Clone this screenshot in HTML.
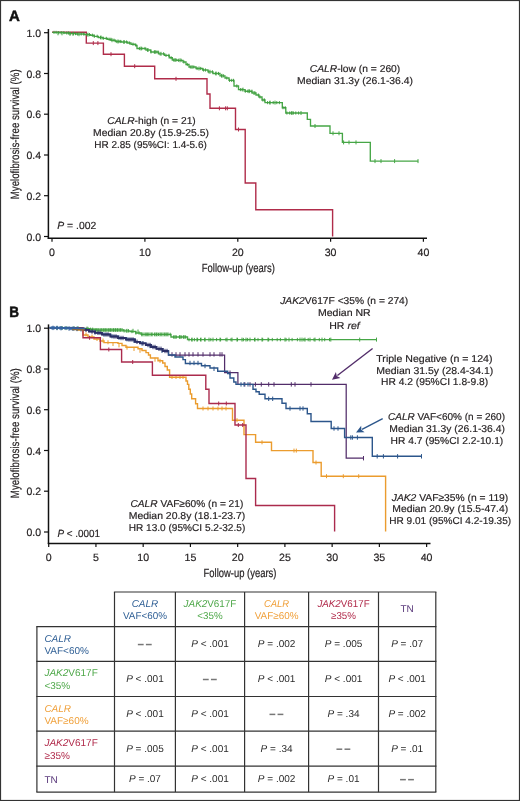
<!DOCTYPE html>
<html><head><meta charset="utf-8"><style>
html,body{margin:0;padding:0;background:#fff;}
body{width:520px;height:801px;overflow:hidden;}
svg{display:block;will-change:transform;font-family:"Liberation Sans", sans-serif;text-rendering:geometricPrecision;}
</style></head><body>
<svg width="520" height="801" viewBox="0 0 520 801">
<rect x="0" y="0" width="520" height="801" fill="#fff"/>
<text x="8.9" y="20.9" font-size="15" text-anchor="start" fill="#111" font-weight="bold" font-style="normal" stroke="#111" stroke-width="0.5">A</text>
<line x1="48.4" y1="29" x2="48.4" y2="238.9" stroke="#111" stroke-width="1.5"/>
<line x1="47.699999999999996" y1="238.3" x2="427" y2="238.3" stroke="#111" stroke-width="1.5"/>
<line x1="44" y1="32.7" x2="48.4" y2="32.7" stroke="#111" stroke-width="1.2"/>
<text x="41.1" y="36.800000000000004" font-size="10.6" text-anchor="end" fill="#231f20" font-weight="normal" font-style="normal" textLength="14.6" lengthAdjust="spacingAndGlyphs"  stroke="#231f20" stroke-width="0.18">1.0</text>
<line x1="44" y1="73.5" x2="48.4" y2="73.5" stroke="#111" stroke-width="1.2"/>
<text x="41.1" y="77.6" font-size="10.6" text-anchor="end" fill="#231f20" font-weight="normal" font-style="normal" textLength="14.6" lengthAdjust="spacingAndGlyphs"  stroke="#231f20" stroke-width="0.18">0.8</text>
<line x1="44" y1="114.2" x2="48.4" y2="114.2" stroke="#111" stroke-width="1.2"/>
<text x="41.1" y="118.3" font-size="10.6" text-anchor="end" fill="#231f20" font-weight="normal" font-style="normal" textLength="14.6" lengthAdjust="spacingAndGlyphs"  stroke="#231f20" stroke-width="0.18">0.6</text>
<line x1="44" y1="155" x2="48.4" y2="155" stroke="#111" stroke-width="1.2"/>
<text x="41.1" y="159.1" font-size="10.6" text-anchor="end" fill="#231f20" font-weight="normal" font-style="normal" textLength="14.6" lengthAdjust="spacingAndGlyphs"  stroke="#231f20" stroke-width="0.18">0.4</text>
<line x1="44" y1="195.7" x2="48.4" y2="195.7" stroke="#111" stroke-width="1.2"/>
<text x="41.1" y="199.79999999999998" font-size="10.6" text-anchor="end" fill="#231f20" font-weight="normal" font-style="normal" textLength="14.6" lengthAdjust="spacingAndGlyphs"  stroke="#231f20" stroke-width="0.18">0.2</text>
<line x1="44" y1="236.5" x2="48.4" y2="236.5" stroke="#111" stroke-width="1.2"/>
<text x="41.1" y="240.6" font-size="10.6" text-anchor="end" fill="#231f20" font-weight="normal" font-style="normal" textLength="14.6" lengthAdjust="spacingAndGlyphs"  stroke="#231f20" stroke-width="0.18">0.0</text>
<line x1="52" y1="238.3" x2="52" y2="241.8" stroke="#111" stroke-width="1.2"/>
<text x="52" y="255.9" font-size="10.6" text-anchor="middle" fill="#231f20" font-weight="normal" font-style="normal"  stroke="#231f20" stroke-width="0.18">0</text>
<line x1="144.9" y1="238.3" x2="144.9" y2="241.8" stroke="#111" stroke-width="1.2"/>
<text x="144.9" y="255.9" font-size="10.6" text-anchor="middle" fill="#231f20" font-weight="normal" font-style="normal"  stroke="#231f20" stroke-width="0.18">10</text>
<line x1="237.8" y1="238.3" x2="237.8" y2="241.8" stroke="#111" stroke-width="1.2"/>
<text x="237.8" y="255.9" font-size="10.6" text-anchor="middle" fill="#231f20" font-weight="normal" font-style="normal"  stroke="#231f20" stroke-width="0.18">20</text>
<line x1="330.6" y1="238.3" x2="330.6" y2="241.8" stroke="#111" stroke-width="1.2"/>
<text x="330.6" y="255.9" font-size="10.6" text-anchor="middle" fill="#231f20" font-weight="normal" font-style="normal"  stroke="#231f20" stroke-width="0.18">30</text>
<line x1="423.4" y1="238.3" x2="423.4" y2="241.8" stroke="#111" stroke-width="1.2"/>
<text x="423.4" y="255.9" font-size="10.6" text-anchor="middle" fill="#231f20" font-weight="normal" font-style="normal"  stroke="#231f20" stroke-width="0.18">40</text>
<text x="238.3" y="272" font-size="12" text-anchor="middle" fill="#231f20" font-weight="normal" font-style="normal" textLength="73" lengthAdjust="spacingAndGlyphs" stroke="#231f20" stroke-width="0.2">Follow-up (years)</text>
<text x="19.3" y="134.3" font-size="12" text-anchor="middle" fill="#231f20" font-weight="normal" font-style="normal" textLength="130" lengthAdjust="spacingAndGlyphs" transform="rotate(-90 19.3 134.3)" stroke="#231f20" stroke-width="0.2">Myelofibrosis-free survival (%)</text>
<text x="57.3" y="228.8" font-size="10.4" text-anchor="start" fill="#231f20" font-weight="normal" font-style="normal" textLength="39" lengthAdjust="spacingAndGlyphs"  stroke="#231f20" stroke-width="0.18"><tspan font-style="italic">P</tspan> = .002</text>
<path d="M52,32.3 H86.3 V43.1 H103.4 V54.2 H124.4 V66.2 H154.7 V78.8 H207 V94 H210 V108.3 H235.5 V129.5 H245.2 V183 H255.8 V209.7 H332.6 V236.5" fill="none" stroke="#b02c4a" stroke-width="1.4" stroke-linejoin="miter" stroke-linecap="butt" />
<path d="M93.3,41.1 V45.1 M97.9,41.1 V45.1 M111,52.2 V56.2 M134.7,64.2 V68.2 M176,76.8 V80.8 M219.4,106.3 V110.3 M225.6,106.3 V110.3 M227.3,106.3 V110.3 M238.5,127.5 V131.5" stroke="#b02c4a" stroke-width="1.0" fill="none"/>
<path d="M52.3,32.4 H58 V32.6 H64 V33 H70 V33.6 H76 V34 H84.6 V34.6 H90.4 V35.2 H94 V36.3 H98.4 V37.5 H103 V38.4 H107.7 V39.3 H111 V40.2 H115.4 V41.5 H121.5 V42 H127.7 V43 H131 V44.2 H135.4 V45.4 H137 V48.5 H146 V50 H150.8 V52 H158.5 V53.8 H164.6 V55.4 H169.2 V57.7 H172.3 V60 H177 V60.3 H183 V62 H186 V64.5 H189 V67 H196 V68.5 H202.7 V70 H208 V71.8 H213 V73.5 H220 V75.8 H225 V78 H229 V80.4 H234 V86 H238.5 V89.6 H245 V91.2 H252 V93 H256 V95 H259 V97 H262 V100 H265 V102.6 H282.3 V107.7 H285.8 V113 H307.3 V119.3 H310.5 V126 H330 V133.3 H342.4 V142.4 H370.3 V161.1 H418.2 V161.1" fill="none" stroke="#46a646" stroke-width="1.35" stroke-linejoin="miter" stroke-linecap="butt" />
<path d="M58,31.299999999999997 V35.3 M62,31.299999999999997 V35.3 M70,31.799999999999997 V35.8 M73,31.799999999999997 V35.8 M79,32.2 V36.2 M88,32.7 V36.7 M101,35.5 V39.5 M112,38.2 V42.2 M118,39.5 V43.5 M124,40.0 V44.0 M141,46.5 V50.5 M148,48.0 V52.0 M155,50.0 V54.0 M161,51.8 V55.8 M175,58.0 V62.0 M180,58.3 V62.3 M192,65.0 V69.0 M199,66.5 V70.5 M210,69.8 V73.8 M216,71.5 V75.5 M222,73.8 V77.8 M243,87.6 V91.6 M249,89.2 V93.2 M254,91.0 V95.0 M270,100.6 V104.6 M275,100.6 V104.6 M292,111.0 V115.0 M301,111.0 V115.0 M315,124.0 V128.0 M333,131.3 V135.3 M339,131.3 V135.3 M343.6,140.4 V144.4 M349,140.4 V144.4 M356,140.4 V144.4 M375,159.1 V163.1 M381,159.1 V163.1 M394.6,159.1 V163.1 M418,159.1 V163.1" stroke="#46a646" stroke-width="1.0" fill="none"/>
<path d="M54.0,30.799999999999997 V34.0 M56.1,30.799999999999997 V34.0 M58.8,31.0 V34.2 M61.1,31.0 V34.2 M63.9,31.0 V34.2 M66.8,31.4 V34.6 M68.5,31.4 V34.6 M70.1,32.0 V35.2 M73.4,32.0 V35.2 M75.5,32.0 V35.2 M77.6,32.4 V35.6 M81.2,32.4 V35.6 M83.7,32.4 V35.6 M87.0,33.0 V36.2 M89.5,33.0 V36.2 M92.4,33.6 V36.800000000000004 M94.3,34.699999999999996 V37.9 M97.2,34.699999999999996 V37.9 M100.5,35.9 V39.1 M103.2,36.8 V40.0 M106.3,36.8 V40.0 M109.2,37.699999999999996 V40.9 M110.9,37.699999999999996 V40.9 M114.0,38.6 V41.800000000000004 M116.8,39.9 V43.1 M119.0,39.9 V43.1 M120.7,39.9 V43.1 M124.0,40.4 V43.6 M126.6,40.4 V43.6 M129.6,41.4 V44.6 M133.0,42.6 V45.800000000000004 M136.0,43.8 V47.0 M139.4,46.9 V50.1 M141.8,46.9 V50.1 M145.0,46.9 V50.1 M147.5,48.4 V51.6 M151.0,50.4 V53.6 M154.3,50.4 V53.6 M156.1,50.4 V53.6 M158.0,50.4 V53.6 M160.0,52.199999999999996 V55.4 M163.6,52.199999999999996 V55.4 M166.0,53.8 V57.0 M168.9,53.8 V57.0 M171.1,56.1 V59.300000000000004 M173.7,58.4 V61.6 M176.1,58.4 V61.6 M178.4,58.699999999999996 V61.9 M181.2,58.699999999999996 V61.9 M183.9,60.4 V63.6 M187.3,62.9 V66.1 M190.3,65.4 V68.6 M193.8,65.4 V68.6 M197.1,66.9 V70.1 M200.7,66.9 V70.1 M203.6,68.4 V71.6 M205.5,68.4 V71.6 M208.8,70.2 V73.39999999999999 M212.4,70.2 V73.39999999999999 M215.8,71.9 V75.1 M218.5,71.9 V75.1 M221.5,74.2 V77.39999999999999 M223.6,74.2 V77.39999999999999 M226.8,76.4 V79.6 M229.6,78.80000000000001 V82.0 M231.7,78.80000000000001 V82.0 M233.5,78.80000000000001 V82.0 M236.8,84.4 V87.6 M240.4,88.0 V91.19999999999999 M242.1,88.0 V91.19999999999999 M245.3,89.60000000000001 V92.8 M247.8,89.60000000000001 V92.8 M249.7,89.60000000000001 V92.8 M251.9,89.60000000000001 V92.8 M255.0,91.4 V94.6 M258.3,93.4 V96.6 M260.0,95.4 V98.6 M262.9,98.4 V101.6 M264.5,98.4 V101.6 M267.6,101.0 V104.19999999999999 M269.8,101.0 V104.19999999999999 M273.2,101.0 V104.19999999999999 M276.8,101.0 V104.19999999999999 M279.4,101.0 V104.19999999999999 M283.0,106.10000000000001 V109.3 M285.2,106.10000000000001 V109.3 M286.9,111.4 V114.6 M289.7,111.4 V114.6 M291.4,111.4 V114.6 M293.4,111.4 V114.6 M295.8,111.4 V114.6 M298.6,111.4 V114.6" stroke="#3c9a3c" stroke-width="0.9" fill="none"/>
<text x="355" y="71.7" font-size="10" text-anchor="middle" fill="#231f20" font-weight="normal" font-style="normal" textLength="90.5" lengthAdjust="spacingAndGlyphs"  stroke="#231f20" stroke-width="0.18"><tspan font-style="italic">CALR</tspan>-low (n = 260)</text>
<text x="355" y="83.8" font-size="10" text-anchor="middle" fill="#231f20" font-weight="normal" font-style="normal" textLength="116.0" lengthAdjust="spacingAndGlyphs"  stroke="#231f20" stroke-width="0.18">Median 31.3y (26.1-36.4)</text>
<text x="151.5" y="123.8" font-size="10" text-anchor="middle" fill="#231f20" font-weight="normal" font-style="normal" textLength="88.5" lengthAdjust="spacingAndGlyphs"  stroke="#231f20" stroke-width="0.18"><tspan font-style="italic">CALR</tspan>-high (n = 21)</text>
<text x="151" y="136" font-size="10" text-anchor="middle" fill="#231f20" font-weight="normal" font-style="normal" textLength="115.8" lengthAdjust="spacingAndGlyphs"  stroke="#231f20" stroke-width="0.18">Median 20.8y (15.9-25.5)</text>
<text x="150.5" y="148" font-size="10" text-anchor="middle" fill="#231f20" font-weight="normal" font-style="normal" textLength="112.5" lengthAdjust="spacingAndGlyphs"  stroke="#231f20" stroke-width="0.18">HR 2.85 (95%CI: 1.4-5.6)</text>
<text x="9.3" y="316.6" font-size="15" text-anchor="start" fill="#111" font-weight="bold" font-style="normal" textLength="9.8" lengthAdjust="spacingAndGlyphs" stroke="#111" stroke-width="0.5">B</text>
<line x1="48.5" y1="324.4" x2="48.5" y2="544.1" stroke="#111" stroke-width="1.5"/>
<line x1="47.8" y1="543.5" x2="430.5" y2="543.5" stroke="#111" stroke-width="1.5"/>
<line x1="44" y1="328.2" x2="48.5" y2="328.2" stroke="#111" stroke-width="1.2"/>
<text x="41.1" y="332.3" font-size="10.6" text-anchor="end" fill="#231f20" font-weight="normal" font-style="normal" textLength="14.6" lengthAdjust="spacingAndGlyphs"  stroke="#231f20" stroke-width="0.18">1.0</text>
<line x1="44" y1="369" x2="48.5" y2="369" stroke="#111" stroke-width="1.2"/>
<text x="41.1" y="373.1" font-size="10.6" text-anchor="end" fill="#231f20" font-weight="normal" font-style="normal" textLength="14.6" lengthAdjust="spacingAndGlyphs"  stroke="#231f20" stroke-width="0.18">0.8</text>
<line x1="44" y1="409.7" x2="48.5" y2="409.7" stroke="#111" stroke-width="1.2"/>
<text x="41.1" y="413.8" font-size="10.6" text-anchor="end" fill="#231f20" font-weight="normal" font-style="normal" textLength="14.6" lengthAdjust="spacingAndGlyphs"  stroke="#231f20" stroke-width="0.18">0.6</text>
<line x1="44" y1="450.5" x2="48.5" y2="450.5" stroke="#111" stroke-width="1.2"/>
<text x="41.1" y="454.6" font-size="10.6" text-anchor="end" fill="#231f20" font-weight="normal" font-style="normal" textLength="14.6" lengthAdjust="spacingAndGlyphs"  stroke="#231f20" stroke-width="0.18">0.4</text>
<line x1="44" y1="491.2" x2="48.5" y2="491.2" stroke="#111" stroke-width="1.2"/>
<text x="41.1" y="495.3" font-size="10.6" text-anchor="end" fill="#231f20" font-weight="normal" font-style="normal" textLength="14.6" lengthAdjust="spacingAndGlyphs"  stroke="#231f20" stroke-width="0.18">0.2</text>
<line x1="44" y1="532" x2="48.5" y2="532" stroke="#111" stroke-width="1.2"/>
<text x="41.1" y="536.1" font-size="10.6" text-anchor="end" fill="#231f20" font-weight="normal" font-style="normal" textLength="14.6" lengthAdjust="spacingAndGlyphs"  stroke="#231f20" stroke-width="0.18">0.0</text>
<line x1="48.7" y1="543.5" x2="48.7" y2="547.0" stroke="#111" stroke-width="1.2"/>
<text x="48.7" y="560.7" font-size="10.6" text-anchor="middle" fill="#231f20" font-weight="normal" font-style="normal"  stroke="#231f20" stroke-width="0.18">0</text>
<line x1="95.94" y1="543.5" x2="95.94" y2="547.0" stroke="#111" stroke-width="1.2"/>
<text x="95.94" y="560.7" font-size="10.6" text-anchor="middle" fill="#231f20" font-weight="normal" font-style="normal"  stroke="#231f20" stroke-width="0.18">5</text>
<line x1="143.18" y1="543.5" x2="143.18" y2="547.0" stroke="#111" stroke-width="1.2"/>
<text x="143.18" y="560.7" font-size="10.6" text-anchor="middle" fill="#231f20" font-weight="normal" font-style="normal"  stroke="#231f20" stroke-width="0.18">10</text>
<line x1="190.42000000000002" y1="543.5" x2="190.42000000000002" y2="547.0" stroke="#111" stroke-width="1.2"/>
<text x="190.42000000000002" y="560.7" font-size="10.6" text-anchor="middle" fill="#231f20" font-weight="normal" font-style="normal"  stroke="#231f20" stroke-width="0.18">15</text>
<line x1="237.66000000000003" y1="543.5" x2="237.66000000000003" y2="547.0" stroke="#111" stroke-width="1.2"/>
<text x="237.66000000000003" y="560.7" font-size="10.6" text-anchor="middle" fill="#231f20" font-weight="normal" font-style="normal"  stroke="#231f20" stroke-width="0.18">20</text>
<line x1="284.90000000000003" y1="543.5" x2="284.90000000000003" y2="547.0" stroke="#111" stroke-width="1.2"/>
<text x="284.90000000000003" y="560.7" font-size="10.6" text-anchor="middle" fill="#231f20" font-weight="normal" font-style="normal"  stroke="#231f20" stroke-width="0.18">25</text>
<line x1="332.14" y1="543.5" x2="332.14" y2="547.0" stroke="#111" stroke-width="1.2"/>
<text x="332.14" y="560.7" font-size="10.6" text-anchor="middle" fill="#231f20" font-weight="normal" font-style="normal"  stroke="#231f20" stroke-width="0.18">30</text>
<line x1="379.38" y1="543.5" x2="379.38" y2="547.0" stroke="#111" stroke-width="1.2"/>
<text x="379.38" y="560.7" font-size="10.6" text-anchor="middle" fill="#231f20" font-weight="normal" font-style="normal"  stroke="#231f20" stroke-width="0.18">35</text>
<line x1="426.62" y1="543.5" x2="426.62" y2="547.0" stroke="#111" stroke-width="1.2"/>
<text x="426.62" y="560.7" font-size="10.6" text-anchor="middle" fill="#231f20" font-weight="normal" font-style="normal"  stroke="#231f20" stroke-width="0.18">40</text>
<text x="240" y="576.7" font-size="12" text-anchor="middle" fill="#231f20" font-weight="normal" font-style="normal" textLength="73" lengthAdjust="spacingAndGlyphs" stroke="#231f20" stroke-width="0.2">Follow-up (years)</text>
<text x="19.3" y="433.2" font-size="12" text-anchor="middle" fill="#231f20" font-weight="normal" font-style="normal" textLength="130" lengthAdjust="spacingAndGlyphs" transform="rotate(-90 19.3 433.2)" stroke="#231f20" stroke-width="0.2">Myelofibrosis-free survival (%)</text>
<text x="57.5" y="537.3" font-size="10.4" text-anchor="start" fill="#231f20" font-weight="normal" font-style="normal" textLength="42.6" lengthAdjust="spacingAndGlyphs"  stroke="#231f20" stroke-width="0.18"><tspan font-style="italic">P</tspan> &lt; .0001</text>
<path d="M49.5,327.8 H70 V328.2 H84 V328.6 H90 V329.3 H95.8 V330 H123.5 V330.8 H130 V331.5 H135.8 V333 H141 V334.4 H171 V337 H187.5 V339.6 H377" fill="none" stroke="#46a646" stroke-width="1.35" stroke-linejoin="miter" stroke-linecap="butt" />
<path d="M92,328.0 V332.0 M94,328.0 V332.0 M96,328.0 V332.0 M98,328.0 V332.0 M100,328.0 V332.0 M102,328.0 V332.0 M104,328.0 V332.0 M106,328.0 V332.0 M108,328.0 V332.0 M110,328.0 V332.0 M112,328.0 V332.0 M114,328.0 V332.0 M116,328.0 V332.0 M118,328.0 V332.0 M120,328.0 V332.0 M122,328.0 V332.0 M127,328.8 V332.8 M142,332.4 V336.4 M144,332.4 V336.4 M146,332.4 V336.4 M148,332.4 V336.4 M152,332.4 V336.4 M157,332.4 V336.4 M162,332.4 V336.4 M166,332.4 V336.4 M133,328.8 V332.8 M138,329.5 V333.5 M150,332.4 V336.4 M155,332.4 V336.4 M160,332.4 V336.4 M164,332.4 V336.4 M168,332.4 V336.4 M175,335.0 V339.0 M180,335.0 V339.0 M184,335.0 V339.0 M192,337.6 V341.6 M197,337.6 V341.6 M201,337.6 V341.6 M205,337.6 V341.6 M209,337.6 V341.6 M213,337.6 V341.6 M220,337.6 V341.6 M227,337.6 V341.6 M232,337.6 V341.6 M237,337.6 V341.6 M242,337.6 V341.6 M246,337.6 V341.6 M250,337.6 V341.6 M255,337.6 V341.6 M262,337.6 V341.6 M268,337.6 V341.6 M285,337.6 V341.6 M289,337.6 V341.6 M300,337.6 V341.6 M302,337.6 V341.6 M305,337.6 V341.6 M310,337.6 V341.6 M315,337.6 V341.6 M322,337.6 V341.6 M330.8,337.6 V341.6 M359.7,337.6 V341.6 M376.5,337.6 V341.6 M57,325.9 V329.9 M62,326.0 V330.0 M66,326.1 V330.1 M74,326.2 V330.2 M78,326.2 V330.2 M87,326.6 V330.6" stroke="#46a646" stroke-width="1.0" fill="none"/>
<path d="M88.0,326.90000000000003 V330.3 M90.6,327.6 V331.0 M92.7,327.6 V331.0 M96.1,328.3 V331.7 M98.1,328.3 V331.7 M101.2,328.3 V331.7 M103.8,328.3 V331.7 M105.8,328.3 V331.7 M108.8,328.3 V331.7 M110.7,328.3 V331.7 M113.5,328.3 V331.7 M115.5,328.3 V331.7 M117.5,328.3 V331.7 M120.3,328.3 V331.7 M124.1,329.1 V332.5 M126.2,329.1 V332.5 M128.5,329.1 V332.5 M131.9,329.8 V333.2 M135.9,331.3 V334.7 M139.1,331.3 V334.7 M141.9,332.7 V336.09999999999997 M146.0,332.7 V336.09999999999997 M147.9,332.7 V336.09999999999997 M151.8,332.7 V336.09999999999997 M154.3,332.7 V336.09999999999997 M156.4,332.7 V336.09999999999997 M158.5,332.7 V336.09999999999997 M161.0,332.7 V336.09999999999997 M164.8,332.7 V336.09999999999997 M167.0,332.7 V336.09999999999997 M170.2,332.7 V336.09999999999997 M173.6,335.3 V338.7 M176.3,335.3 V338.7 M179.4,335.3 V338.7 M181.3,335.3 V338.7 M183.3,335.3 V338.7 M185.6,335.3 V338.7 M189.0,337.90000000000003 V341.3 M191.8,337.90000000000003 V341.3 M194.4,337.90000000000003 V341.3 M197.6,337.90000000000003 V341.3 M200.5,337.90000000000003 V341.3 M204.7,337.90000000000003 V341.3 M210.8,337.90000000000003 V341.3 M216.6,337.90000000000003 V341.3 M220.6,337.90000000000003 V341.3 M225.9,337.90000000000003 V341.3 M231.0,337.90000000000003 V341.3 M237.5,337.90000000000003 V341.3 M243.4,337.90000000000003 V341.3 M247.6,337.90000000000003 V341.3 M254.5,337.90000000000003 V341.3 M258.0,337.90000000000003 V341.3 M262.7,337.90000000000003 V341.3 M268.7,337.90000000000003 V341.3 M272.3,337.90000000000003 V341.3 M277.2,337.90000000000003 V341.3 M280.4,337.90000000000003 V341.3 M286.1,337.90000000000003 V341.3 M292.1,337.90000000000003 V341.3 M297.4,337.90000000000003 V341.3 M303.9,337.90000000000003 V341.3 M308.2,337.90000000000003 V341.3 M314.0,337.90000000000003 V341.3 M319.3,337.90000000000003 V341.3 M324.7,337.90000000000003 V341.3 M329.5,337.90000000000003 V341.3" stroke="#3c9a3c" stroke-width="0.9" fill="none"/>
<path d="M49.5,327.8 H77 V330 H83 V335 H88 V337 H94 V339 H100 V341 H104 V342.6 H118 V343.4 H122 V345.5 H126 V347.2 H138 V348.8 H142 V350.5 H146 V352.6 H148.5 V355 H150.4 V358 H158 V360.8 H162.7 V363 H165 V366.5 H167.3 V370 H169.6 V377.3 H183.8 V377.3 H186 V381 H187.5 V384.4 H188.8 V389.2 H190.3 V394 H191.7 V398.8 H195.6 V403.7 H197.5 V408.5 H232.5 V420.2 H244 V434.6 H255.6 V442.3 H271.5 V450.6 H313 V462.5 H321.2 V476.2 H385.6 V531.6" fill="none" stroke="#eb9c2e" stroke-width="1.4" stroke-linejoin="miter" stroke-linecap="butt" />
<path d="M86,332.4 V336.4 M92,334.5 V338.5 M97,337.0 V341.0 M103,338.5 V342.5 M108,340.3 V344.3 M113,342.0 V346.0 M119,343.4 V347.4 M127,345.7 V349.7 M134,347.0 V351.0 M140,348.8 V352.8 M155,357.7 V361.7 M160,358.8 V362.8 M172,375.0 V379.0 M176,375.0 V379.0 M180,375.0 V379.0 M183,375.0 V379.0 M203,406.5 V410.5 M208,406.5 V410.5 M213,406.5 V410.5 M218,406.5 V410.5 M222,406.5 V410.5 M226,406.5 V410.5 M237,418.2 V422.2 M262,440.3 V444.3 M294,448.6 V452.6 M296.3,448.6 V452.6 M316,460.5 V464.5 M326.5,474.2 V478.2 M343.3,474.2 V478.2 M358.7,474.2 V478.2" stroke="#eb9c2e" stroke-width="1.0" fill="none"/>
<path d="M49.5,327.8 H83 V337.8 H100.4 V349.5 H121.6 V362 H152.4 V375.3 H205.8 V389.2 H209 V403.5 H235 V425 H246 V478.5 H255.6 V505.5 H334.6 V531.6" fill="none" stroke="#ab2b4d" stroke-width="1.4" stroke-linejoin="miter" stroke-linecap="butt" />
<path d="M89.6,335.8 V339.8 M108.8,347.5 V351.5 M132.7,360.0 V364.0 M218.7,401.5 V405.5 M226.3,401.5 V405.5 M238.3,423.0 V427.0 M242.7,423.0 V427.0" stroke="#ab2b4d" stroke-width="1.0" fill="none"/>
<path d="M49.5,327.8 H70 V328.5 H84 V329.8 H89 V331.5 H95 V332.8 H102 V334.5 H110.4 V336.5 H118 V338 H125.8 V339.5 H135 V341.8 H140 V343.3 H145.8 V345 H151 V347 H156.5 V348.8 H162.7 V351 H168.5 V355 H224.6 V372.7 H237.9 V384.4 H346.2 V458.2 H364 V458.2" fill="none" stroke="#522d6a" stroke-width="1.25" stroke-linejoin="miter" stroke-linecap="butt" />
<path d="M172,352.2 V356.59999999999997 M176,352.2 V356.59999999999997 M180,352.2 V356.59999999999997 M185,352.2 V356.59999999999997 M189,352.2 V356.59999999999997 M193,352.2 V356.59999999999997 M198,352.2 V356.59999999999997 M203,352.2 V356.59999999999997 M210,352.2 V356.59999999999997 M214,352.2 V356.59999999999997 M220,352.2 V356.59999999999997 M222,352.2 V356.59999999999997 M230,370.5 V374.9 M244.8,382.2 V386.59999999999997 M250,382.2 V386.59999999999997 M255.4,382.2 V386.59999999999997 M261.3,382.2 V386.59999999999997 M268.7,382.2 V386.59999999999997 M274,382.2 V386.59999999999997 M291.3,382.2 V386.59999999999997 M295,382.2 V386.59999999999997 M311,382.2 V386.59999999999997 M363.5,456.0 V460.4" stroke="#522d6a" stroke-width="1.0" fill="none"/>
<path d="M49.5,327.8 H65 V328.3 H84 V329.6 H89 V331.4 H95 V332.6 H102 V334.3 H110.4 V336.3 H118 V337.8 H125.8 V339.3 H135 V341.6 H140 V343.1 H145.8 V344.8 H151 V346.8 H156.5 V348.6 H162.7 V350.8 H168.5 V355 H175 V357 H183 V359.6 H185.4 V363.5 H201.5 V365.8 H210 V368 H217.7 V371.2 H227.7 V373.5 H230 V378 H233.8 V382 H236 V384.4 H253 V389.2 H256 V391.7 H259.2 V394.2 H265 V398.8 H282 V403.3 H286 V408.5 H307.3 V413.8 H311 V421.5 H331.2 V428.5 H344.6 V437.5 H372.3 V456.3 H421.7 V456.3" fill="none" stroke="#2c568b" stroke-width="1.4" stroke-linejoin="miter" stroke-linecap="butt" />
<path d="M53,325.7 V330.09999999999997 M57,325.8 V330.2 M61,326.0 V330.4 M69,326.3 V330.7 M73,326.5 V330.9 M77,326.8 V331.2 M81,327.1 V331.5 M95,330.3 V334.7 M104,332.40000000000003 V336.8 M112,334.0 V338.4 M119,335.5 V339.9 M127,337.0 V341.4 M134,338.6 V343.0 M142,341.3 V345.7 M150,343.8 V348.2 M162,348.6 V353.0 M190,360.8 V365.2 M194,360.8 V365.2 M198,360.8 V365.2 M205,363.8 V368.2 M214,366.6 V371.0 M241,382.2 V386.59999999999997 M244,382.2 V386.59999999999997 M248,382.2 V386.59999999999997 M268.7,396.6 V401.0 M272.7,396.6 V401.0 M290,406.3 V410.7 M300,406.3 V410.7 M303,406.3 V410.7 M334,426.3 V430.7 M338,426.3 V430.7 M350.8,435.3 V439.7 M352.4,435.3 V439.7 M357.4,435.3 V439.7 M377.2,454.1 V458.5 M383.4,454.1 V458.5 M397.6,454.1 V458.5 M421.5,454.1 V458.5" stroke="#2c568b" stroke-width="1.0" fill="none"/>
<path d="M84,329.8 H89 V331.5 H95 V332.8 H102 V334.5 H110.4 V336.5 H118 V338 H125.8 V339.5 H135 V341.8 H140 V343.3 H145.8 V345 H151 V347 H156.5 V348.8 H162.7 V351 H168.5" fill="none" stroke="#2b2f66" stroke-width="1.8" stroke-linejoin="miter" stroke-linecap="butt" />
<path d="M49.5,327.8 H60 V328.1 H70 V328.5 H78 V329 H84 V329.6" fill="none" stroke="#3464a2" stroke-width="1.9" stroke-linejoin="miter" stroke-linecap="butt" />
<path d="M52,326.0 V329.6 M54,326.0 V329.6 M57,326.0 V329.6 M60,326.3 V329.90000000000003 M62,326.3 V329.90000000000003 M65,326.3 V329.90000000000003 M67,326.3 V329.90000000000003 M70,326.7 V330.3 M72,326.7 V330.3 M74,326.7 V330.3 M77,326.7 V330.3" stroke="#3464a2" stroke-width="1.0" fill="none"/>
<path d="M72,329.6 H84 V331" fill="none" stroke="#8a6a40" stroke-width="1.2" stroke-linejoin="miter" stroke-linecap="butt" />
<path d="M86,327.6 V332.0 M92,329.3 V333.7 M98,330.6 V335.0 M100,330.6 V335.0 M106,332.3 V336.7 M108,332.3 V336.7 M114,334.3 V338.7 M116,334.3 V338.7 M121,335.8 V340.2 M123,335.8 V340.2 M129,337.3 V341.7 M131,337.3 V341.7 M133,337.3 V341.7 M137,339.6 V344.0 M143,341.1 V345.5 M148,342.8 V347.2 M150,342.8 V347.2 M153,344.8 V349.2 M155,344.8 V349.2 M159,346.6 V351.0 M161,346.6 V351.0 M165,348.8 V353.2 M167,348.8 V353.2" stroke="#2b2f66" stroke-width="1.0" fill="none"/>
<line x1="372.6" y1="348.5" x2="337.391817285998" y2="375.5565344994301" stroke="#522d6a" stroke-width="1.4"/>
<path d="M332,379.7 L335.9301988939229,372.01341840255327 L336.75748584058647,376.0440010289089 L340.43926429160194,377.8809842726099 Z" fill="#522d6a"/>
<line x1="382.7" y1="418.6" x2="362.02232947354725" y2="429.4422242460801" stroke="#2c568b" stroke-width="1.4"/>
<path d="M356,432.6 L361.1897646476713,425.70098971577943 L361.3138201237182,429.81372727595306 L364.6261676739959,432.2547012016985 Z" fill="#2c568b"/>
<text x="344.2" y="304" font-size="10" text-anchor="middle" fill="#231f20" font-weight="normal" font-style="normal" textLength="128.0" lengthAdjust="spacingAndGlyphs"  stroke="#231f20" stroke-width="0.18"><tspan font-style="italic">JAK2</tspan>V617F &lt;35% (n = 274)</text>
<text x="344.3" y="316.4" font-size="10" text-anchor="middle" fill="#231f20" font-weight="normal" font-style="normal" textLength="52.7" lengthAdjust="spacingAndGlyphs"  stroke="#231f20" stroke-width="0.18">Median NR</text>
<text x="344.5" y="328.5" font-size="10" text-anchor="middle" fill="#231f20" font-weight="normal" font-style="normal" textLength="30.5" lengthAdjust="spacingAndGlyphs"  stroke="#231f20" stroke-width="0.18">HR <tspan font-style="italic">ref</tspan></text>
<text x="434.4" y="361.7" font-size="10" text-anchor="middle" fill="#231f20" font-weight="normal" font-style="normal" textLength="116.2" lengthAdjust="spacingAndGlyphs"  stroke="#231f20" stroke-width="0.18">Triple Negative (n = 124)</text>
<text x="434.7" y="373.7" font-size="10" text-anchor="middle" fill="#231f20" font-weight="normal" font-style="normal" textLength="117.0" lengthAdjust="spacingAndGlyphs"  stroke="#231f20" stroke-width="0.18">Median 31.5y (28.4-34.1)</text>
<text x="434.6" y="385" font-size="10" text-anchor="middle" fill="#231f20" font-weight="normal" font-style="normal" textLength="107.2" lengthAdjust="spacingAndGlyphs"  stroke="#231f20" stroke-width="0.18">HR 4.2 (95%CI 1.8-9.8)</text>
<text x="446.5" y="419.7" font-size="10" text-anchor="middle" fill="#231f20" font-weight="normal" font-style="normal" textLength="117.0" lengthAdjust="spacingAndGlyphs"  stroke="#231f20" stroke-width="0.18"><tspan font-style="italic">CALR</tspan> VAF&lt;60% (n = 260)</text>
<text x="447.1" y="431.7" font-size="10" text-anchor="middle" fill="#231f20" font-weight="normal" font-style="normal" textLength="115.7" lengthAdjust="spacingAndGlyphs"  stroke="#231f20" stroke-width="0.18">Median 31.3y (26.1-36.4)</text>
<text x="446.9" y="444.2" font-size="10" text-anchor="middle" fill="#231f20" font-weight="normal" font-style="normal" textLength="112.7" lengthAdjust="spacingAndGlyphs"  stroke="#231f20" stroke-width="0.18">HR 4.7 (95%CI 2.2-10.1)</text>
<text x="450" y="500.6" font-size="10" text-anchor="middle" fill="#231f20" font-weight="normal" font-style="normal" textLength="116.5" lengthAdjust="spacingAndGlyphs"  stroke="#231f20" stroke-width="0.18"><tspan font-style="italic">JAK2</tspan> VAF≥35% (n = 119)</text>
<text x="450.2" y="512.4" font-size="10" text-anchor="middle" fill="#231f20" font-weight="normal" font-style="normal" textLength="115.9" lengthAdjust="spacingAndGlyphs"  stroke="#231f20" stroke-width="0.18">Median 20.9y (15.5-47.4)</text>
<text x="450.2" y="524.2" font-size="10" text-anchor="middle" fill="#231f20" font-weight="normal" font-style="normal" textLength="121.9" lengthAdjust="spacingAndGlyphs"  stroke="#231f20" stroke-width="0.18">HR 9.01 (95%CI 4.2-19.35)</text>
<text x="186.9" y="507" font-size="10" text-anchor="middle" fill="#231f20" font-weight="normal" font-style="normal" textLength="112.8" lengthAdjust="spacingAndGlyphs"  stroke="#231f20" stroke-width="0.18"><tspan font-style="italic">CALR</tspan> VAF≥60% (n = 21)</text>
<text x="187" y="519" font-size="10" text-anchor="middle" fill="#231f20" font-weight="normal" font-style="normal" textLength="116.5" lengthAdjust="spacingAndGlyphs"  stroke="#231f20" stroke-width="0.18">Median 20.8y (18.1-23.7)</text>
<text x="187" y="530.8" font-size="10" text-anchor="middle" fill="#231f20" font-weight="normal" font-style="normal" textLength="116.5" lengthAdjust="spacingAndGlyphs"  stroke="#231f20" stroke-width="0.18">HR 13.0 (95%CI 5.2-32.5)</text>
<line x1="113.9" y1="592" x2="436.40000000000003" y2="592" stroke="#333" stroke-width="1.2"/>
<line x1="36.3" y1="626.6" x2="436.40000000000003" y2="626.6" stroke="#333" stroke-width="1.2"/>
<line x1="36.3" y1="661.4" x2="436.40000000000003" y2="661.4" stroke="#333" stroke-width="1.2"/>
<line x1="36.3" y1="696.5" x2="436.40000000000003" y2="696.5" stroke="#333" stroke-width="1.2"/>
<line x1="36.3" y1="731.2" x2="436.40000000000003" y2="731.2" stroke="#333" stroke-width="1.2"/>
<line x1="36.3" y1="766.1" x2="436.40000000000003" y2="766.1" stroke="#333" stroke-width="1.2"/>
<line x1="36.3" y1="792.1" x2="436.40000000000003" y2="792.1" stroke="#333" stroke-width="1.2"/>
<line x1="36.9" y1="626.6" x2="36.9" y2="792.1" stroke="#333" stroke-width="1.2"/>
<line x1="114.5" y1="592" x2="114.5" y2="792.1" stroke="#333" stroke-width="1.2"/>
<line x1="175.4" y1="592" x2="175.4" y2="792.1" stroke="#333" stroke-width="1.2"/>
<line x1="244.6" y1="592" x2="244.6" y2="792.1" stroke="#333" stroke-width="1.2"/>
<line x1="308.6" y1="592" x2="308.6" y2="792.1" stroke="#333" stroke-width="1.2"/>
<line x1="378.5" y1="592" x2="378.5" y2="792.1" stroke="#333" stroke-width="1.2"/>
<line x1="435.8" y1="592" x2="435.8" y2="792.1" stroke="#333" stroke-width="1.2"/>
<text x="144.95" y="606.5" font-size="10" text-anchor="middle" fill="#2f5f95" font-weight="normal" font-style="normal" textLength="26.5" lengthAdjust="spacingAndGlyphs" ><tspan font-style="italic">CALR</tspan></text>
<text x="144.95" y="618.8" font-size="10" text-anchor="middle" fill="#2f5f95" font-weight="normal" font-style="normal" textLength="44" lengthAdjust="spacingAndGlyphs" >VAF&lt;60%</text>
<text x="210.0" y="606.5" font-size="10" text-anchor="middle" fill="#4fa84a" font-weight="normal" font-style="normal" textLength="52.8" lengthAdjust="spacingAndGlyphs" ><tspan font-style="italic">JAK2</tspan>V617F</text>
<text x="210.0" y="618.8" font-size="10" text-anchor="middle" fill="#4fa84a" font-weight="normal" font-style="normal" textLength="25.3" lengthAdjust="spacingAndGlyphs" >&lt;35%</text>
<text x="276.6" y="606.5" font-size="10" text-anchor="middle" fill="#f0a03a" font-weight="normal" font-style="normal" textLength="25.2" lengthAdjust="spacingAndGlyphs" ><tspan font-style="italic">CALR</tspan></text>
<text x="276.6" y="618.8" font-size="10" text-anchor="middle" fill="#f0a03a" font-weight="normal" font-style="normal" textLength="43.7" lengthAdjust="spacingAndGlyphs" >VAF≥60%</text>
<text x="343.55" y="606.5" font-size="10" text-anchor="middle" fill="#b02a4a" font-weight="normal" font-style="normal" textLength="52.2" lengthAdjust="spacingAndGlyphs" ><tspan font-style="italic">JAK2</tspan>V617F</text>
<text x="343.55" y="618.8" font-size="10" text-anchor="middle" fill="#b02a4a" font-weight="normal" font-style="normal" textLength="25" lengthAdjust="spacingAndGlyphs" >≥35%</text>
<text x="407.15" y="612.3" font-size="10" text-anchor="middle" fill="#5b3a7c" font-weight="normal" font-style="normal" >TN</text>
<text x="44.4" y="641.6" font-size="10" text-anchor="start" fill="#2f5f95" font-weight="normal" font-style="normal" ><tspan font-style="italic">CALR</tspan></text>
<text x="44.4" y="654.2" font-size="10" text-anchor="start" fill="#2f5f95" font-weight="normal" font-style="normal" >VAF&lt;60%</text>
<text x="44.4" y="676.4" font-size="10" text-anchor="start" fill="#4fa84a" font-weight="normal" font-style="normal" ><tspan font-style="italic">JAK2</tspan>V617F</text>
<text x="44.4" y="689.0" font-size="10" text-anchor="start" fill="#4fa84a" font-weight="normal" font-style="normal" >&lt;35%</text>
<text x="44.4" y="711.5" font-size="10" text-anchor="start" fill="#f0a03a" font-weight="normal" font-style="normal" ><tspan font-style="italic">CALR</tspan></text>
<text x="44.4" y="724.1" font-size="10" text-anchor="start" fill="#f0a03a" font-weight="normal" font-style="normal" >VAF≥60%</text>
<text x="44.4" y="746.2" font-size="10" text-anchor="start" fill="#b02a4a" font-weight="normal" font-style="normal" ><tspan font-style="italic">JAK2</tspan>V617F</text>
<text x="44.4" y="758.8000000000001" font-size="10" text-anchor="start" fill="#b02a4a" font-weight="normal" font-style="normal" >≥35%</text>
<text x="44.4" y="782.8" font-size="10" text-anchor="start" fill="#5b3a7c" font-weight="normal" font-style="normal" >TN</text>
<rect x="137.85" y="643.80" width="5.8" height="1.5" fill="#777"/>
<rect x="145.90" y="643.80" width="5.8" height="1.5" fill="#777"/>
<text x="210.0" y="647.3" font-size="10" text-anchor="middle" fill="#2a2a2a" font-weight="normal" font-style="normal" ><tspan font-style="italic">P</tspan> &lt; .001</text>
<text x="276.6" y="647.3" font-size="10" text-anchor="middle" fill="#2a2a2a" font-weight="normal" font-style="normal" ><tspan font-style="italic">P</tspan> = .002</text>
<text x="343.55" y="647.3" font-size="10" text-anchor="middle" fill="#2a2a2a" font-weight="normal" font-style="normal" ><tspan font-style="italic">P</tspan> = .005</text>
<text x="407.15" y="647.3" font-size="10" text-anchor="middle" fill="#2a2a2a" font-weight="normal" font-style="normal" ><tspan font-style="italic">P</tspan> = .07</text>
<text x="144.95" y="682.2" font-size="10" text-anchor="middle" fill="#2a2a2a" font-weight="normal" font-style="normal" ><tspan font-style="italic">P</tspan> &lt; .001</text>
<rect x="202.90" y="678.75" width="5.8" height="1.5" fill="#777"/>
<rect x="210.95" y="678.75" width="5.8" height="1.5" fill="#777"/>
<text x="276.6" y="682.2" font-size="10" text-anchor="middle" fill="#2a2a2a" font-weight="normal" font-style="normal" ><tspan font-style="italic">P</tspan> &lt; .001</text>
<text x="343.55" y="682.2" font-size="10" text-anchor="middle" fill="#2a2a2a" font-weight="normal" font-style="normal" ><tspan font-style="italic">P</tspan> &lt; .001</text>
<text x="407.15" y="682.2" font-size="10" text-anchor="middle" fill="#2a2a2a" font-weight="normal" font-style="normal" ><tspan font-style="italic">P</tspan> &lt; .001</text>
<text x="144.95" y="717.1" font-size="10" text-anchor="middle" fill="#2a2a2a" font-weight="normal" font-style="normal" ><tspan font-style="italic">P</tspan> &lt; .001</text>
<text x="210.0" y="717.1" font-size="10" text-anchor="middle" fill="#2a2a2a" font-weight="normal" font-style="normal" ><tspan font-style="italic">P</tspan> &lt; .001</text>
<rect x="269.50" y="713.65" width="5.8" height="1.5" fill="#777"/>
<rect x="277.55" y="713.65" width="5.8" height="1.5" fill="#777"/>
<text x="343.55" y="717.1" font-size="10" text-anchor="middle" fill="#2a2a2a" font-weight="normal" font-style="normal" ><tspan font-style="italic">P</tspan> = .34</text>
<text x="407.15" y="717.1" font-size="10" text-anchor="middle" fill="#2a2a2a" font-weight="normal" font-style="normal" ><tspan font-style="italic">P</tspan> = .002</text>
<text x="144.95" y="752.0" font-size="10" text-anchor="middle" fill="#2a2a2a" font-weight="normal" font-style="normal" ><tspan font-style="italic">P</tspan> = .005</text>
<text x="210.0" y="752.0" font-size="10" text-anchor="middle" fill="#2a2a2a" font-weight="normal" font-style="normal" ><tspan font-style="italic">P</tspan> &lt; .001</text>
<text x="276.6" y="752.0" font-size="10" text-anchor="middle" fill="#2a2a2a" font-weight="normal" font-style="normal" ><tspan font-style="italic">P</tspan> = .34</text>
<rect x="336.45" y="748.45" width="5.8" height="1.5" fill="#777"/>
<rect x="344.50" y="748.45" width="5.8" height="1.5" fill="#777"/>
<text x="407.15" y="752.0" font-size="10" text-anchor="middle" fill="#2a2a2a" font-weight="normal" font-style="normal" ><tspan font-style="italic">P</tspan> = .01</text>
<text x="144.95" y="782.4" font-size="10" text-anchor="middle" fill="#2a2a2a" font-weight="normal" font-style="normal" ><tspan font-style="italic">P</tspan> = .07</text>
<text x="210.0" y="782.4" font-size="10" text-anchor="middle" fill="#2a2a2a" font-weight="normal" font-style="normal" ><tspan font-style="italic">P</tspan> &lt; .001</text>
<text x="276.6" y="782.4" font-size="10" text-anchor="middle" fill="#2a2a2a" font-weight="normal" font-style="normal" ><tspan font-style="italic">P</tspan> = .002</text>
<text x="343.55" y="782.4" font-size="10" text-anchor="middle" fill="#2a2a2a" font-weight="normal" font-style="normal" ><tspan font-style="italic">P</tspan> = .01</text>
<rect x="400.05" y="778.90" width="5.8" height="1.5" fill="#777"/>
<rect x="408.10" y="778.90" width="5.8" height="1.5" fill="#777"/>
<rect x="0.5" y="0.5" width="519" height="800" fill="none" stroke="#333" stroke-width="1.2"/>
</svg>
</body></html>
